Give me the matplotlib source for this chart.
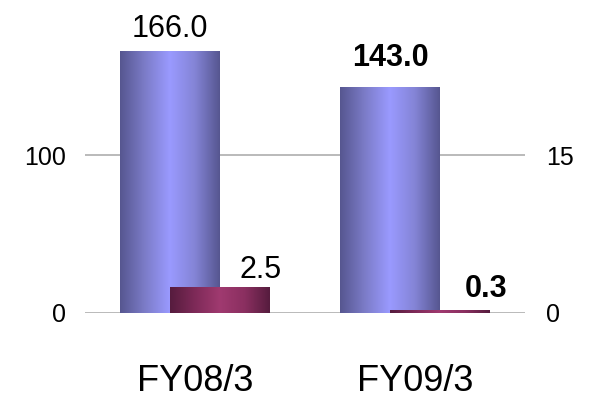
import numpy as np
import matplotlib.pyplot as plt
from matplotlib.colors import LinearSegmentedColormap

plt.rcParams['font.family'] = ['Liberation Sans', 'DejaVu Sans']

years = ["FY08/3", "FY09/3"]
sales = [166.0, 143.0]        # left axis
profit = [2.5, 0.3]           # right axis
bold_labels = [False, True]

left_ticks = [0, 100]
right_ticks = [0, 15]

blue_cmap = LinearSegmentedColormap.from_list(
    "blue", ["#565690", "#7c7cc8", "#9a9aff", "#8484d6", "#565690"])
red_cmap = LinearSegmentedColormap.from_list(
    "red", ["#561c3e", "#7e2a58", "#a03a70", "#8a2f60", "#561c3e"])


def shade(ax, bars, cmap):
    grad = np.linspace(0, 1, 256).reshape(1, -1)
    for b in bars:
        x0, y0 = b.get_x(), b.get_y()
        x1, y1 = x0 + b.get_width(), y0 + b.get_height()
        im = ax.imshow(grad, cmap=cmap, aspect="auto",
                       extent=[x0, x1, y0, y1], zorder=b.get_zorder())
        im.set_clip_path(b)
        b.set_facecolor("none")


fig = plt.figure(figsize=(5.92, 3.99), dpi=100)
ax = fig.add_axes([85 / 592, 86 / 399, 440 / 592, 300 / 399])
ax2 = ax.twinx()

x = np.arange(len(years))
w = 100 / 220
off = 0.1136

b1 = ax.bar(x - off, sales, width=w, zorder=3, linewidth=0)
shade(ax, b1, blue_cmap)
b2 = ax2.bar(x + off, profit, width=w, zorder=3, linewidth=0)
shade(ax2, b2, red_cmap)

ax.set_xlim(-0.5, 1.5)
ax.set_ylim(0, 190)
ax2.set_ylim(0, 190 * 15 / 100)

for y in left_ticks:
    ax.axhline(y, color="#b4b4b4", lw=1.3, zorder=1)

ax.set_yticks(left_ticks)
ax2.set_yticks(right_ticks)
ax.set_xticks(x)
ax.set_xticklabels(years)
ax.tick_params(axis="x", length=0, pad=37, labelsize=26)
ax.tick_params(axis="y", length=0, pad=14, labelsize=18)
ax2.tick_params(axis="y", length=0, pad=15, labelsize=18)

for a in (ax, ax2):
    for s in a.spines.values():
        s.set_visible(False)

# label offsets in points (dx, dy) above each bar
sales_off = [(0, 10), (0, 15)]
profit_off = [(29, 6), (33, 9)]

for i in range(len(years)):
    fw = "bold" if bold_labels[i] else "normal"
    ax.annotate(f"{sales[i]:.1f}", (x[i] - off, sales[i]),
                xytext=sales_off[i], textcoords="offset points",
                ha="center", va="baseline", fontsize=22, fontweight=fw)
    ax2.annotate(f"{profit[i]:.1f}", (x[i] + off, profit[i]),
                 xytext=profit_off[i], textcoords="offset points",
                 ha="center", va="baseline", fontsize=22, fontweight=fw)

fig.savefig("out.png", dpi=100)
